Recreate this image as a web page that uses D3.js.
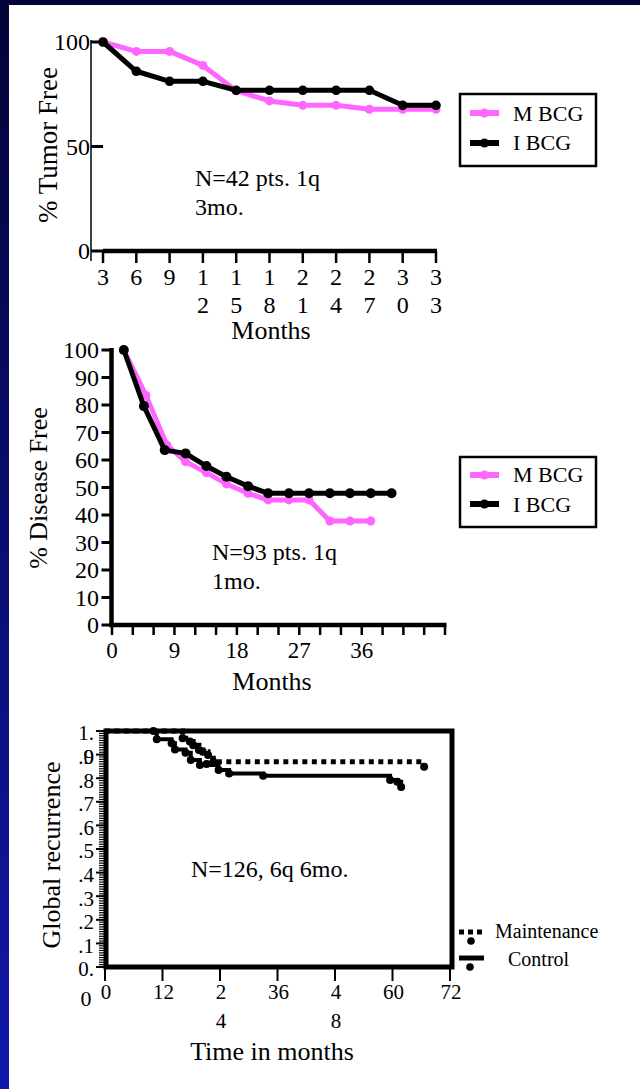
<!DOCTYPE html>
<html><head><meta charset="utf-8">
<script src="https://cdn.jsdelivr.net/npm/d3@7"></script>
<style>
html,body{margin:0;padding:0;background:#fff;}
svg{display:block;}
text{font-family:"Liberation Serif","Times New Roman",Times,serif;fill:#000;}
</style></head><body>
<svg id="c" width="640" height="1089"></svg>
<script>
// ---------- Chart 1 data ----------
const months1 = [3,6,9,12,15,18,21,24,27,30,33];
const xLabels1 = [["3"],["6"],["9"],["1","2"],["1","5"],["1","8"],["2","1"],["2","4"],["2","7"],["3","0"],["3","3"]];
const mbcg1 = [100,95.5,95.5,88.8,76.7,71.8,69.7,69.7,67.8,67.8,67.8];
const ibcg1 = [100,86,81.2,81.2,76.9,76.9,76.9,76.9,76.9,69.7,69.7];
const yTicks1 = [0,50,100];

// ---------- Chart 2 data ----------
const months2I = [1.7,4.6,7.6,10.6,13.6,16.5,19.6,22.5,25.5,28.4,31.4,34.3,37.3,40.3];
const ibcg2 = [100,79.6,63.6,62.4,57.8,53.9,50.5,47.9,47.9,47.9,47.9,47.9,47.9,47.9];
const months2M = [1.7,4.9,7.9,10.6,13.6,16.5,19.6,22.5,25.5,28.4,31.4,34.3,37.3];
const mbcg2 = [100,83.5,65.5,59.4,55.4,51.3,47.9,45.5,45.5,45.5,37.8,37.8,37.8];
const yTicks2 = [0,10,20,30,40,50,60,70,80,90,100];
const xTicks2 = [0,3,6,9,12,15,18,21,24,27,30,33,36,39,42,45,48];
const xLabelTicks2 = [0,9,18,27,36];

// ---------- Chart 3 data ----------
const ctrlT = [0,10.8,13.9,14.6,16.8,17.9,19.8,23.7,25.9,33,59.5,61.0,61.8];
const ctrlV = [1,0.965,0.948,0.922,0.908,0.877,0.856,0.835,0.82,0.81,0.792,0.785,0.763];
const ctrlDotT = [10.1,10.8,13.9,14.6,16.8,17.9,19.8,21.2,23.7,25.9,33,59.5,61.0,61.8];
const ctrlDotV = [1,0.965,0.948,0.922,0.908,0.877,0.856,0.86,0.835,0.82,0.81,0.792,0.785,0.763];
const maintT = [0,16.2,17.7,18.4,19.6,20.4,21.5,22.6,66.6];
const maintV = [1,0.969,0.955,0.94,0.92,0.912,0.898,0.87,0.849];
const yTicks3 = [0,0.1,0.2,0.3,0.4,0.5,0.6,0.7,0.8,0.9,1];
const yLabels3 = ["0.",".1",".2",".3",".4",".5",".6",".7",".8",".9","1."];
const xTicks3 = [0,12,24,36,48,60,72];
const xLabels3 = [["0"],["12"],["2","4"],["36"],["4","8"],["60"],["72"]];

const PINK = "#ff66ff";
const svg = d3.select("#c");

// ---------- page frame ----------
const defs = svg.append("defs");
const g = defs.append("linearGradient").attr("id","side").attr("x1",0).attr("y1",0).attr("x2",0).attr("y2",1);
g.append("stop").attr("offset","0%").attr("stop-color","#020337");
g.append("stop").attr("offset","100%").attr("stop-color","#1118aa");
svg.append("rect").attr("x",0).attr("y",0).attr("width",640).attr("height",1089).attr("fill","#fff");
svg.append("rect").attr("x",0).attr("y",0).attr("width",640).attr("height",5).attr("fill","#020337");
svg.append("rect").attr("x",0).attr("y",0).attr("width",9).attr("height",1089).attr("fill","url(#side)");

function legendBox(y0, h, l1y, l2y, t1y, t2y) {
  svg.append("rect").attr("x",460).attr("y",y0).attr("width",136).attr("height",h)
    .attr("fill","#fff").attr("stroke","#000").attr("stroke-width",2.5);
  [[PINK,l1y,t1y,"M BCG"],["#000",l2y,t2y,"I BCG"]].forEach(([c,ly,ty,t])=>{
    svg.append("line").attr("x1",470).attr("x2",499).attr("y1",ly).attr("y2",ly)
      .attr("stroke",c).attr("stroke-width",6);
    svg.append("circle").attr("cx",484.5).attr("cy",ly).attr("r",4.5).attr("fill",c);
    svg.append("text").attr("x",513).attr("y",ty).attr("font-size",22).text(t);
  });
}

// ================= Chart 1 =================
{
  const x = d3.scaleLinear().domain([3,33]).range([103,436]);
  const y = d3.scaleLinear().domain([0,100]).range([251,42]);
  svg.append("line").attr("x1",91).attr("x2",91).attr("y1",40).attr("y2",261)
    .attr("stroke","#000").attr("stroke-width",1.5);
  svg.selectAll(".yt1").data(yTicks1).enter().append("line")
    .attr("x1",91).attr("x2",103).attr("y1",d=>y(d)).attr("y2",d=>y(d))
    .attr("stroke","#000").attr("stroke-width",3);
  svg.selectAll(".yl1").data(yTicks1).enter().append("text")
    .attr("x",90).attr("y",d=>y(d)).attr("dy","0.35em").attr("text-anchor","end")
    .attr("font-size",24).text(d=>d);
  svg.append("line").attr("x1",x(3)).attr("x2",x(33)+1).attr("y1",y(0)).attr("y2",y(0))
    .attr("stroke","#000").attr("stroke-width",4.5);
  svg.selectAll(".xt1").data(months1).enter().append("line")
    .attr("x1",d=>x(d)).attr("x2",d=>x(d)).attr("y1",y(0)).attr("y2",y(0)+12)
    .attr("stroke","#000").attr("stroke-width",2.5);
  months1.forEach((m,i)=>{
    xLabels1[i].forEach((s,j)=>{
      svg.append("text").attr("x",x(m)).attr("y",285+j*28).attr("text-anchor","middle")
        .attr("font-size",24).text(s);
    });
  });
  svg.append("text").attr("x",271).attr("y",339).attr("text-anchor","middle").attr("font-size",26).text("Months");
  svg.append("text").attr("transform","translate(57,145) rotate(-90)").attr("text-anchor","middle")
    .attr("font-size",27).text("% Tumor Free");
  const line = d3.line().x(d=>x(d[0])).y(d=>y(d[1]));
  const mData = months1.map((m,i)=>[m,mbcg1[i]]);
  const iData = months1.map((m,i)=>[m,ibcg1[i]]);
  svg.append("path").attr("d",line(mData)).attr("fill","none").attr("stroke",PINK).attr("stroke-width",5).attr("stroke-linejoin","round");
  svg.selectAll(".mp1").data(mData).enter().append("circle").attr("cx",d=>x(d[0])).attr("cy",d=>y(d[1])).attr("r",4.5).attr("fill",PINK);
  svg.append("path").attr("d",line(iData)).attr("fill","none").attr("stroke","#000").attr("stroke-width",5).attr("stroke-linejoin","round");
  svg.selectAll(".ip1").data(iData).enter().append("circle").attr("cx",d=>x(d[0])).attr("cy",d=>y(d[1])).attr("r",4.8).attr("fill","#000");
  svg.append("text").attr("x",195).attr("y",186).attr("font-size",24).text("N=42 pts. 1q");
  svg.append("text").attr("x",195).attr("y",215).attr("font-size",24).text("3mo.");
  legendBox(94,72,113,143,121,150);
}

// ================= Chart 2 =================
{
  const x = d3.scaleLinear().domain([0,48]).range([112,445]);
  const y = d3.scaleLinear().domain([0,100]).range([625,350]);
  svg.append("line").attr("x1",111.5).attr("x2",111.5).attr("y1",348).attr("y2",627)
    .attr("stroke","#000").attr("stroke-width",4.5);
  svg.selectAll(".yt2").data(yTicks2).enter().append("line")
    .attr("x1",101.5).attr("x2",111).attr("y1",d=>y(d)).attr("y2",d=>y(d))
    .attr("stroke","#000").attr("stroke-width",3);
  svg.selectAll(".yl2").data(yTicks2).enter().append("text")
    .attr("x",99).attr("y",d=>y(d)).attr("dy","0.35em").attr("text-anchor","end")
    .attr("font-size",24).text(d=>d);
  svg.append("line").attr("x1",109).attr("x2",x(48)+1.5).attr("y1",y(0)).attr("y2",y(0))
    .attr("stroke","#000").attr("stroke-width",4.5);
  svg.selectAll(".xt2").data(xTicks2).enter().append("line")
    .attr("x1",d=>x(d)).attr("x2",d=>x(d)).attr("y1",y(0)).attr("y2",y(0)+10)
    .attr("stroke","#000").attr("stroke-width",2.5);
  svg.selectAll(".xl2").data(xLabelTicks2).enter().append("text")
    .attr("x",d=>x(d)).attr("y",658).attr("text-anchor","middle").attr("font-size",23).text(d=>d);
  svg.append("text").attr("x",272).attr("y",690).attr("text-anchor","middle").attr("font-size",26).text("Months");
  svg.append("text").attr("transform","translate(47,488) rotate(-90)").attr("text-anchor","middle")
    .attr("font-size",26).text("% Disease Free");
  const line = d3.line().x(d=>x(d[0])).y(d=>y(d[1]));
  const mData = months2M.map((m,i)=>[m,mbcg2[i]]);
  const iData = months2I.map((m,i)=>[m,ibcg2[i]]);
  svg.append("path").attr("d",line(mData)).attr("fill","none").attr("stroke",PINK).attr("stroke-width",5).attr("stroke-linejoin","round");
  svg.selectAll(".mp2").data(mData).enter().append("circle").attr("cx",d=>x(d[0])).attr("cy",d=>y(d[1])).attr("r",4.5).attr("fill",PINK);
  svg.append("path").attr("d",line(iData)).attr("fill","none").attr("stroke","#000").attr("stroke-width",5).attr("stroke-linejoin","round");
  svg.selectAll(".ip2").data(iData).enter().append("circle").attr("cx",d=>x(d[0])).attr("cy",d=>y(d[1])).attr("r",5).attr("fill","#000");
  svg.append("text").attr("x",212).attr("y",560).attr("font-size",24).text("N=93 pts. 1q");
  svg.append("text").attr("x",212).attr("y",589).attr("font-size",24).text("1mo.");
  legendBox(457,70,475,504,482,512);
}

// ================= Chart 3 =================
{
  const x = d3.scaleLinear().domain([0,72]).range([105,450]);
  const y = d3.scaleLinear().domain([0,1]).range([967,731]);
  const minor = d3.range(0,101).map(i=>i/100);
  svg.selectAll(".mt3").data(minor).enter().append("line")
    .attr("x1",99).attr("x2",104).attr("y1",d=>y(d)).attr("y2",d=>y(d))
    .attr("stroke","#000").attr("stroke-width",1.2);
  svg.selectAll(".yt3").data(yTicks3).enter().append("line")
    .attr("x1",96).attr("x2",104).attr("y1",d=>y(d)).attr("y2",d=>y(d))
    .attr("stroke","#000").attr("stroke-width",2);
  const yl = svg.selectAll(".yl3").data(yTicks3).enter().append("text")
    .attr("x",94).attr("y",d=>y(d)+2).attr("dy","0.35em").attr("text-anchor","end")
    .attr("font-size",21);
  yl.append("tspan").text((d,i)=>yLabels3[i]);
  // the 0.9 label in the reference has a "0" printed over its "9"
  yl.filter(d=>d===0.9).append("tspan").attr("dx",-10.5).text("0");
  svg.append("text").attr("x",86).attr("y",1006).attr("text-anchor","middle").attr("font-size",22).text("0");
  svg.selectAll(".xt3").data(xTicks3).enter().append("line")
    .attr("x1",d=>x(d)).attr("x2",d=>x(d)).attr("y1",y(0)).attr("y2",y(0)+14)
    .attr("stroke","#000").attr("stroke-width",2);
  xTicks3.forEach((t,i)=>{
    xLabels3[i].forEach((s,j)=>{
      svg.append("text").attr("x",x(t)+1).attr("y",999+j*29).attr("text-anchor","middle")
        .attr("font-size",21).text(s);
    });
  });
  svg.append("text").attr("x",272).attr("y",1060).attr("text-anchor","middle").attr("font-size",26).text("Time in months");
  svg.append("text").attr("transform","translate(60,855) rotate(-90)").attr("text-anchor","middle")
    .attr("font-size",26).text("Global recurrence");
  const step = d3.line().x(d=>x(d[0])).y(d=>y(d[1])).curve(d3.curveStepAfter);
  const cData = ctrlT.map((t,i)=>[t,ctrlV[i]]);
  const mData = maintT.map((t,i)=>[t,maintV[i]]);
  svg.append("path").attr("d",step(mData)).attr("fill","none").attr("stroke","#000")
    .attr("stroke-width",5).attr("stroke-dasharray","5,4.5");
  svg.append("path").attr("d",step(cData)).attr("fill","none").attr("stroke","#000").attr("stroke-width",4);
  svg.selectAll(".md3").data(mData.slice(1)).enter().append("circle")
    .attr("cx",d=>x(d[0])).attr("cy",d=>y(d[1])).attr("r",4).attr("fill","#000");
  svg.selectAll(".cd3").data(ctrlDotT).enter().append("circle")
    .attr("cx",d=>x(d)).attr("cy",(d,i)=>y(ctrlDotV[i])).attr("r",4).attr("fill","#000");
  svg.append("rect").attr("x",x(0)+1).attr("y",y(1)).attr("width",x(72)-x(0)+1).attr("height",y(0)-y(1))
    .attr("fill","none").attr("stroke","#000").attr("stroke-width",5);
  svg.append("text").attr("x",191).attr("y",877).attr("font-size",24).text("N=126, 6q 6mo.");
  // legend
  svg.append("line").attr("x1",459).attr("x2",484).attr("y1",932).attr("y2",932)
    .attr("stroke","#000").attr("stroke-width",5).attr("stroke-dasharray","5,4");
  svg.append("circle").attr("cx",471).attr("cy",941).attr("r",3.8).attr("fill","#000");
  svg.append("text").attr("x",495).attr("y",938).attr("font-size",20).text("Maintenance");
  svg.append("line").attr("x1",459).attr("x2",484).attr("y1",958).attr("y2",958)
    .attr("stroke","#000").attr("stroke-width",5);
  svg.append("circle").attr("cx",470).attr("cy",967).attr("r",3.8).attr("fill","#000");
  svg.append("text").attr("x",508).attr("y",966).attr("font-size",20).text("Control");
}
</script>
</body></html>
